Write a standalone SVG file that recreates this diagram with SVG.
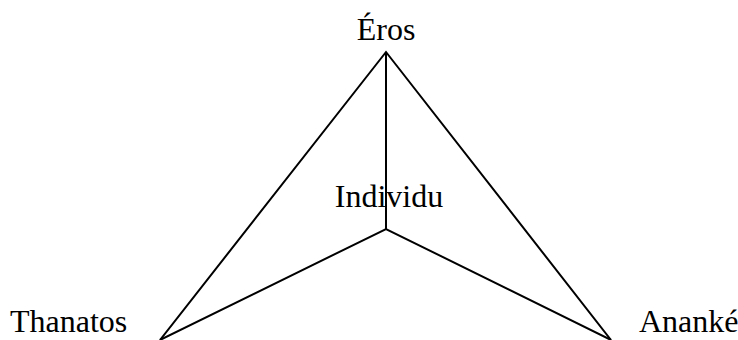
<svg xmlns="http://www.w3.org/2000/svg" width="738" height="340" viewBox="0 0 738 340">
<style>
text{font-family:"Liberation Serif","Times New Roman",serif;font-size:32px;fill:#000}
.ln{stroke:#000;stroke-width:2;fill:none}
</style>
<rect width="738" height="340" fill="#fff"/>
<g id="connectors">
<polyline class="ln" points="160,340 386,52 611,340"/>
<line class="ln" x1="386" y1="52" x2="386" y2="229"/>
<polyline class="ln" points="160,340 386,229 611,340"/>
</g>
<g id="eros"><text x="386" y="40" text-anchor="middle">Éros</text></g>
<g id="individu"><text x="389" y="207" text-anchor="middle">Individu</text></g>
<g id="thanatos"><text x="10" y="332">Thanatos</text></g>
<g id="ananke"><text x="639" y="332">Ananké</text></g>
</svg>
